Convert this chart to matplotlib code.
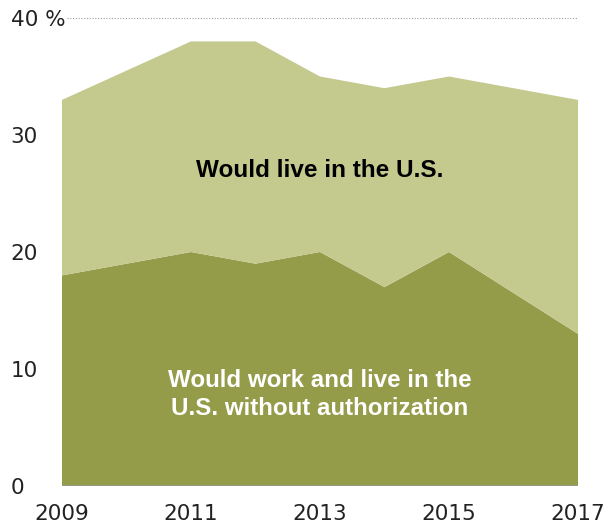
import matplotlib
matplotlib.use("Agg")
import matplotlib.pyplot as plt

years = [2009, 2010, 2011, 2012, 2013, 2014, 2015, 2016, 2017]
# share who would work and live in the U.S. without authorization
work_live = [18, 19, 20, 19, 20, 17, 20, 16.5, 13]
# share who would live in the U.S. (total, top of the stack)
live_total = [33, 35.5, 38, 38, 35, 34, 35, 34, 33]
live_only = [t - w for t, w in zip(live_total, work_live)]

yticks = [0, 10, 20, 30, 40]
ytick_labels = ["0", "10", "20", "30", "40 %"]
xticks = [2009, 2011, 2013, 2015, 2017]

plt.rcParams["font.family"] = ["DejaVu Sans"]

fig = plt.figure(figsize=(6.13, 5.25), dpi=100)
ax = fig.add_axes([62 / 613, 1 - 486 / 525, (578 - 62) / 613, (486 - 18) / 525])

ax.stackplot(years, work_live, live_only, colors=["#949c4a", "#c4c98e"], linewidth=0)

ax.set_xlim(2009, 2017)
ax.set_ylim(0, 40)
ax.axhline(40, color="#999999", linestyle=(0, (1, 1.5)), linewidth=0.8, xmin=0.01)
ax.axhline(0, color="#999999", linewidth=1.8)

for s in ax.spines.values():
    s.set_visible(False)

ax.set_yticks(yticks)
ax.set_yticklabels(ytick_labels, ha="left", fontsize=15.5, color="#222222")
ax.set_xticks(xticks)
ax.set_xticklabels([str(x) for x in xticks], fontsize=15.5, color="#222222")
ax.tick_params(axis="y", length=0, pad=37)
ax.tick_params(axis="x", length=0, pad=13)

label_font = ["Liberation Sans", "DejaVu Sans"]
ax.text(2013, 27, "Would live in the U.S.", ha="center", va="center",
        fontsize=17.5, fontweight="bold", color="black", family=label_font)
ax.text(2013, 7.8, "Would work and live in the\nU.S. without authorization",
        ha="center", va="center", fontsize=17.4, fontweight="bold",
        color="white", linespacing=1.25, family=label_font)

fig.savefig("out.png", dpi=100)
